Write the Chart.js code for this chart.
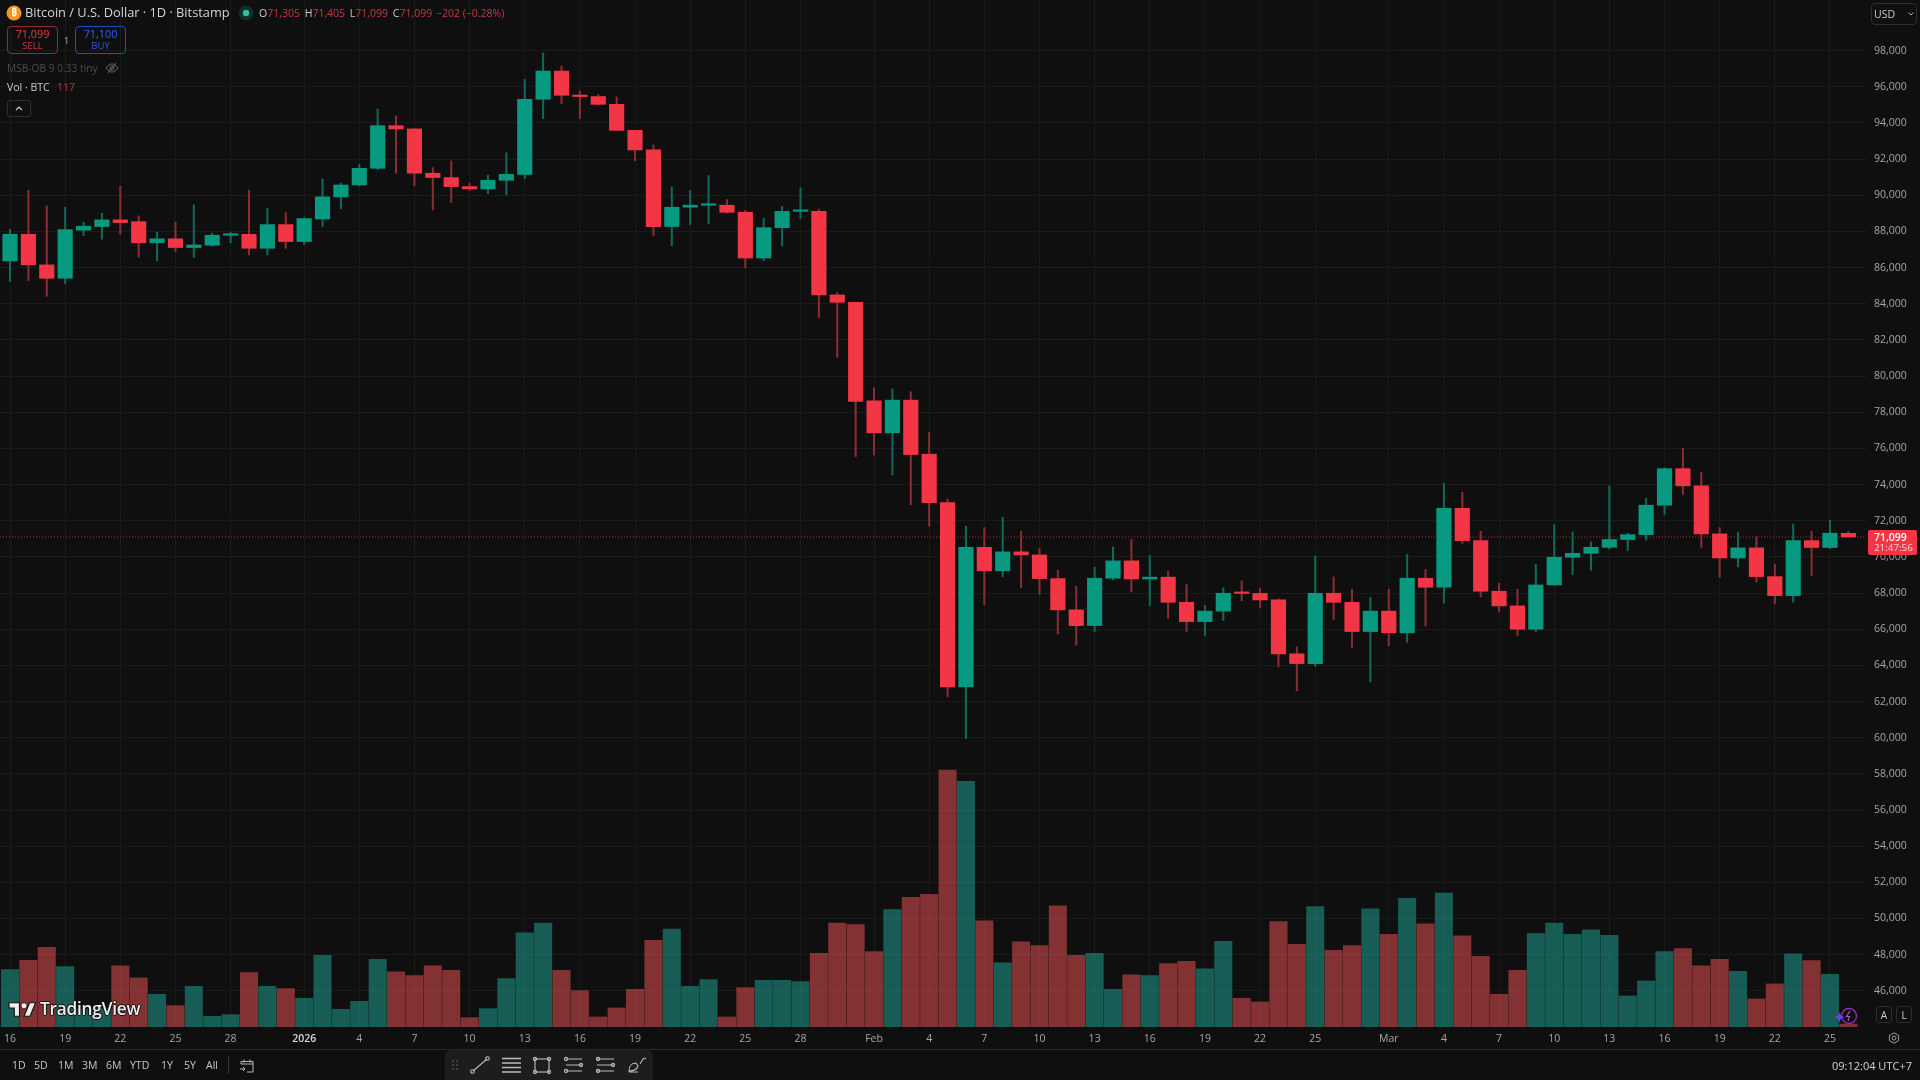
<!DOCTYPE html>
<html>
<head>
<meta charset="utf-8">
<title>BTCUSD 1D</title>
<script src="https://cdn.jsdelivr.net/npm/chart.js@4/dist/chart.umd.min.js"></script>
<style>
html, body { margin: 0; padding: 0; background: #0f0f0f; overflow: hidden; }
#wrap { position: relative; width: 1920px; height: 1080px; font-family: "Open Sans", "Noto Sans", sans-serif; }
canvas { position: absolute; left: 0; top: 0; }
.t { position: absolute; white-space: nowrap; line-height: 1; }
.box { position: absolute; box-sizing: border-box; border-radius: 4px; }
svg { position: absolute; overflow: visible; }
</style>
</head>
<body>
<div id="wrap">
<canvas id="btcChart" width="1920" height="1080"></canvas>

<!-- symbol header -->
<svg style="left:6px;top:5px" width="16" height="16" viewBox="0 0 16 16"><circle cx="8" cy="8" r="7.5" fill="#f7931a"/></svg>
<div class="t" style="left:6px;top:7px;width:16px;text-align:center;font-size:10px;font-weight:700;color:#fff">₿</div>
<div class="t" style="left:25px;top:6px;font-size:12.8px;font-weight:500;color:#d1d4dc">Bitcoin / U.S. Dollar · 1D · Bitstamp</div>
<svg style="left:238px;top:5px" width="16" height="16" viewBox="0 0 16 16"><circle cx="8" cy="8" r="7.5" fill="#0e2f2a"/><circle cx="8" cy="8" r="3.2" fill="#35bfa0"/></svg>
<div class="t" style="left:259px;top:7.5px;font-size:10.5px;color:#c43a44"><span style="color:#c8ccd4">O</span>71,305 <span style="color:#c8ccd4;margin-left:2px">H</span>71,405 <span style="color:#c8ccd4;margin-left:2px">L</span>71,099 <span style="color:#c8ccd4;margin-left:2px">C</span>71,099 <span style="margin-left:1px">−202 (−0.28%)</span></div>

<!-- order buttons -->
<div class="box" style="left:7px;top:26px;width:51px;height:28px;border:1px solid #8f2c36"></div>
<div class="t" style="left:7px;top:29px;width:51px;text-align:center;font-size:10.8px;font-weight:500;color:#f23645">71,099</div>
<div class="t" style="left:7px;top:41px;width:51px;text-align:center;font-size:9.5px;font-weight:500;color:#d63541">SELL</div>
<div class="t" style="left:64px;top:36px;font-size:9px;color:#b0b0b0">1</div>
<div class="box" style="left:75px;top:26px;width:51px;height:28px;border:1px solid #1f4fc4"></div>
<div class="t" style="left:75px;top:29px;width:51px;text-align:center;font-size:10.8px;font-weight:500;color:#2962ff">71,100</div>
<div class="t" style="left:75px;top:41px;width:51px;text-align:center;font-size:9.5px;font-weight:500;color:#2a5ae0">BUY</div>

<!-- indicator legend -->
<div class="t" style="left:7px;top:63px;font-size:10.2px;color:#4c4c4c">MSB-OB 9 0.33 tiny</div>
<svg style="left:105px;top:62px" width="14" height="12" viewBox="0 0 14 12" fill="none" stroke="#666" stroke-width="1"><path d="M1 6c2-3 4-4 6-4s4 1 6 4c-2 3-4 4-6 4s-4-1-6-4z"/><circle cx="7" cy="6" r="2"/><path d="M3 11L11 1"/></svg>
<div class="t" style="left:7px;top:82px;font-size:10.5px;font-weight:500;color:#c8ccd4">Vol · BTC</div>
<div class="t" style="left:57px;top:82px;font-size:10.5px;color:#b53a42">117</div>
<div class="box" style="left:7px;top:100px;width:24px;height:17px;border:1px solid #2e2e2e;border-radius:3px"></div>
<svg style="left:15px;top:106px" width="8" height="5" viewBox="0 0 8 5" fill="none" stroke="#c8c8c8" stroke-width="1.2"><path d="M1 4l3-3 3 3"/></svg>

<!-- currency box -->
<div class="box" style="left:1871px;top:3px;width:46px;height:22px;border:1px solid #2e2e2e"></div>
<div class="t" style="left:1874px;top:9px;font-size:10.5px;color:#c8ccd4">USD</div>
<svg style="left:1908px;top:12px" width="6" height="4" viewBox="0 0 6 4" fill="none" stroke="#b0b0b0" stroke-width="1"><path d="M0.5 0.5l2.5 2.5 2.5-2.5"/></svg>

<!-- last price tag -->
<div id="priceTag" class="box" style="left:1868px;top:530px;width:49px;height:25px;background:#f23645;border-radius:2px"></div>
<div class="t" style="left:1874px;top:531.5px;font-size:10.5px;font-weight:600;color:#fff">71,099</div>
<div class="t" style="left:1874px;top:543px;font-size:9.8px;color:#ffd5d8">21:47:56</div>

<!-- watermark -->
<svg style="left:9px;top:1001px" width="27" height="17" viewBox="0 0 36 22"><path d="M14 20H7V9H0V2h14v18zM28 20h-8l7.5-18h8L28 20z" fill="#eee" stroke="#111" stroke-width="1.5"/><circle cx="20" cy="6" r="4" fill="#eee" stroke="#111" stroke-width="1"/></svg>
<div class="t" style="left:40px;top:1000px;font-size:17.2px;font-weight:600;color:#eee;letter-spacing:-0.2px;text-shadow:-1px 0 #111,1px 0 #111,0 -1px #111,0 1px #111">TradingView</div>

<!-- pane corner buttons -->
<div class="box" style="left:1876px;top:1006px;width:16px;height:17px;border:1px solid #2e2e2e;border-radius:3px"></div>
<div class="t" style="left:1876px;top:1010px;width:16px;text-align:center;font-size:10px;color:#c8ccd4">A</div>
<div class="box" style="left:1896px;top:1006px;width:16px;height:17px;border:1px solid #2e2e2e;border-radius:3px"></div>
<div class="t" style="left:1896px;top:1010px;width:16px;text-align:center;font-size:10px;color:#c8ccd4">L</div>
<svg style="left:1888px;top:1032px" width="12" height="12" viewBox="0 0 12 12" fill="none" stroke="#a0a0a0"><path d="M6 .8l4.6 2.6v5.2L6 11.2 1.4 8.6V3.4z"/><circle cx="6" cy="6" r="2"/></svg>
<svg style="left:1834px;top:1006px" width="24" height="20" viewBox="0 0 24 20" fill="none"><circle cx="15" cy="10" r="7.5" stroke="#8e2fb0" stroke-width="1.4"/><path d="M16 5l-3.5 5.5h3l-1.500 4.500" stroke="#b04fd0" stroke-width="1.2"/><path d="M5.500 6l1.500 3.700 3.700 1.500-3.700 1.500-1.500 3.700-1.500-3.700-3.700-1.500 3.700-1.500z" fill="#6a3df5"/></svg>

<!-- bottom bar -->
<div class="box" style="left:0;top:1049px;width:1920px;height:1px;background:#2a2a2a;border-radius:0"></div>
<div class="t" style="left:12px;top:1060px;font-size:10.5px;color:#c4c8d2">1D</div>
<div class="t" style="left:34px;top:1060px;font-size:10.5px;color:#c4c8d2">5D</div>
<div class="t" style="left:58px;top:1060px;font-size:10.5px;color:#c4c8d2">1M</div>
<div class="t" style="left:82px;top:1060px;font-size:10.5px;color:#c4c8d2">3M</div>
<div class="t" style="left:106px;top:1060px;font-size:10.5px;color:#c4c8d2">6M</div>
<div class="t" style="left:130px;top:1060px;font-size:10.5px;color:#c4c8d2">YTD</div>
<div class="t" style="left:161px;top:1060px;font-size:10.5px;color:#c4c8d2">1Y</div>
<div class="t" style="left:184px;top:1060px;font-size:10.5px;color:#c4c8d2">5Y</div>
<div class="t" style="left:206px;top:1060px;font-size:10.5px;color:#c4c8d2">All</div>
<div class="box" style="left:228px;top:1056px;width:1px;height:18px;background:#333;border-radius:0"></div>
<svg style="left:239px;top:1058px" width="16" height="16" viewBox="0 0 16 16" fill="none" stroke="#b8b8b8"><path d="M2 6V3.500h12V14H8M2 6h12M5 1.500v3M11 1.500v3M1 11h5M4 9l2 2-2 2"/></svg>
<div class="box" style="left:445px;top:1050px;width:208px;height:30px;background:#1d1d1d;border-radius:6px 6px 0 0"></div>
<svg style="left:452px;top:1060px" width="6" height="10" fill="#4a4a4a"><circle cx="1" cy="1" r="1"/><circle cx="5" cy="1" r="1"/><circle cx="1" cy="5" r="1"/><circle cx="5" cy="5" r="1"/><circle cx="1" cy="9" r="1"/><circle cx="5" cy="9" r="1"/></svg>
<svg style="left:470px;top:1056px" width="180" height="18" viewBox="0 0 180 18" fill="none" stroke="#bcbcbc" stroke-width="1.1">
  <path d="M3 15L17 3"/><circle cx="2.500" cy="15.500" r="1.800"/><circle cx="17.500" cy="2.500" r="1.800"/>
  <path d="M32 2.500h19M32 7h19M32 11.500h19M32 16h19" stroke-width="1.500"/>
  <rect x="65" y="3" width="14" height="13"/><circle cx="65" cy="3" r="1.600"/><circle cx="79" cy="3" r="1.600"/><circle cx="65" cy="16" r="1.600"/><circle cx="79" cy="16" r="1.600"/>
  <path d="M96 3h16M96 9h16M96 15h16"/><circle cx="96" cy="3" r="1.600"/><circle cx="111" cy="9" r="1.600"/><circle cx="96" cy="15" r="1.600"/>
  <path d="M127 3h17M127 9h17M127 15h17"/><circle cx="128" cy="3" r="1.600"/><circle cx="143" cy="9" r="1.600"/><circle cx="128" cy="15" r="1.600"/>
  <path d="M159 15c0-5 3-8 7-8l2 3c-1 3-3 5-9 5zM159 16h9M170 8l3-5 3-1"/>
</svg>
<div class="t" style="left:1832px;top:1059.500px;font-size:11px;color:#d1d4dc">09:12:04 UTC+7</div>
</div>

<script>
// daily candles, 16 Dec to 26 Mar
const opens = [86370,87840,86150,85410,88070,88270,88640,88540,87370,87590,87110,87240,87790,87840,87070,88380,87440,88690,89910,90570,91490,93850,93670,91220,90980,90480,90350,90830,91160,95310,96870,95530,95460,95030,93590,92510,88270,89340,89450,89450,89060,86530,88210,89110,89110,84490,84080,78630,76860,78670,75680,73000,62810,70530,69230,70280,70110,68800,67070,66200,68820,69780,68780,68880,67490,66420,67000,67990,67980,67620,64640,64100,67990,67490,65870,67000,65800,68820,68320,72690,70900,68100,67290,66000,68450,69980,70200,70530,70960,71230,72860,74880,73930,71270,69940,70500,68910,67860,70900,70520,71305];
const highs = [88120,90280,89410,89340,88510,89010,90500,88860,87950,88510,89470,87900,87950,90280,89280,89040,88750,90900,90680,91710,94770,94390,93690,91530,91900,90680,91120,92360,96410,97870,97150,95770,95570,95440,93590,92780,90460,90260,91090,89760,89170,88730,89390,90420,89230,84620,84100,79350,79290,79130,76890,73210,71700,71620,72190,71420,70480,69260,68380,69430,70550,70960,70090,69210,68470,67310,68300,68670,68270,67680,65020,70040,68890,68210,67770,68210,70130,69300,74070,73580,71420,68540,68210,69590,71790,71380,70830,73930,71310,73240,74920,76010,74680,71620,71360,71110,69590,71820,71420,72030,71405];
const lows = [85230,85280,84420,85100,87770,87570,87860,86570,86370,86900,86570,87180,87370,86700,86700,87070,87270,88270,89260,90520,91420,91220,90520,89190,89600,90260,90090,90020,90920,94240,95070,94240,94990,93590,91920,87770,87200,88380,88430,89020,85980,86390,87200,88710,83240,81040,75550,75640,74530,72880,71700,62260,59950,67360,68910,68300,67920,65740,65120,65870,68730,68060,67310,66590,65870,65650,66480,67570,67180,63920,62590,63950,66520,64990,63090,65080,65280,66180,67440,70740,67790,66980,65650,65870,68450,69020,69260,70420,70350,70920,72340,73460,70520,68860,69450,68600,67400,67490,68950,70440,71099];
const closes = [87840,86150,85410,88100,88290,88640,88490,87370,87590,87110,87250,87790,87840,87070,88380,87440,88710,89910,90570,91490,93850,93670,91220,90980,90480,90350,90830,91160,95310,96870,95530,95460,95030,93590,92510,88270,89340,89450,89460,89060,86530,88210,89110,89120,84490,84080,78600,76860,78670,75660,73000,62810,70530,69230,70280,70110,68800,67070,66200,68820,69780,68780,68880,67490,66420,67000,67990,67980,67620,64640,64100,67990,67490,65870,67000,65800,68820,68320,72690,70900,68100,67290,66000,68450,69980,70200,70530,70960,71230,72860,74880,73930,71270,69940,70500,68910,67860,70900,70520,71310,71099];
const volumes = [2236,2600,3107,2353,700,720,2379,1911,1274,832,1586,416,481,2119,1586,1495,1118,2795,689,1001,2639,2145,2002,2379,2210,364,715,1885,3666,4043,2210,1417,390,741,1469,3380,3809,1586,1846,390,1534,1820,1820,1768,2873,4043,3991,2938,4576,5047,5163,10010,9570,4134,2496,3315,3172,4719,2795,2873,1469,2028,2002,2470,2561,2262,3341,1118,975,4108,3224,4693,2990,3172,4602,3614,5008,4017,5214,3549,2756,1274,2210,3640,4043,3614,3783,3575,1209,1794,2938,3055,2379,2639,2171,1092,1677,2847,2587,2054,117];

// time axis: bar index and its label
const timeTickIdx = [0,3,6,9,12,16,19,22,25,28,31,34,37,40,43,47,50,53,56,59,62,65,68,71,75,78,81,84,87,90,93,96,99];
const timeTickTxt = ['16','19','22','25','28','2026','4','7','10','13','16','19','22','25','28','Feb','4','7','10','13','16','19','22','25','Mar','4','7','10','13','16','19','22','25'];
const priceTicks = [46000,48000,50000,52000,54000,56000,58000,60000,62000,64000,66000,68000,70000,72000,74000,76000,78000,80000,82000,84000,86000,88000,90000,92000,94000,96000,98000];
const lastPrice = 71099;

const UP = '#089981';
const DOWN = '#f23645';
const UP_WICK = '#0e6a59';
const DOWN_WICK = '#8a2c36';
const UP_VOL = 'rgba(34,171,155,0.5)';
const DOWN_VOL = 'rgba(245,85,85,0.5)';
const GRID = '#1a1a1a';
const AXIS_TXT = '#a6a6a6';

const xMin = -0.544;
const xMax = 100.96;
const isUp = i => closes[i] >= opens[i];
const isYearTick = c => !!c.tick && c.tick.value === 16;

const bodies = opens.map((o, i) => ({ x: i, y: [o, closes[i]] }));
const wicks = highs.map((h, i) => ({ x: i, y: [lows[i], h] }));
const volBars = volumes.map((v, i) => ({ x: i, y: v }));

// the plot area must fill the canvas up to the axes
const noPadding = s => {
    s.paddingLeft = s.paddingRight = s.paddingTop = s.paddingBottom = 0;
};

new Chart(document.getElementById('btcChart'), {
    data: {
        datasets: [
            {
                // candle bodies
                type: 'bar',
                data: bodies,
                order: 1,
                grouped: false,
                barPercentage: 1,
                categoryPercentage: 1,
                maxBarThickness: 14.5,
                minBarLength: 1.5,
                backgroundColor: opens.map((o, i) => isUp(i) ? UP : DOWN)
            },
            {
                // wicks
                type: 'bar',
                data: wicks,
                order: 2,
                grouped: false,
                barPercentage: 1,
                categoryPercentage: 1,
                maxBarThickness: 1.4,
                backgroundColor: opens.map((o, i) => isUp(i) ? UP_WICK : DOWN_WICK)
            },
            {
                // last price line
                type: 'line',
                data: [{ x: xMin, y: lastPrice }, { x: xMax, y: lastPrice }],
                order: 3,
                borderColor: 'rgba(242,54,69,0.7)',
                borderWidth: 1,
                borderDash: [1, 2],
                pointRadius: 0
            },
            {
                // volume pane overlay
                type: 'bar',
                data: volBars,
                yAxisID: 'vol',
                order: 4,
                grouped: false,
                barPercentage: 1,
                categoryPercentage: 1,
                maxBarThickness: 17.4,
                backgroundColor: opens.map((o, i) => isUp(i) ? UP_VOL : DOWN_VOL)
            }
        ]
    },
    options: {
        responsive: false,
        animation: false,
        layout: { padding: 0 },
        plugins: { legend: { display: false }, tooltip: { enabled: false } },
        scales: {
            x: {
                type: 'linear',
                offset: false,
                min: xMin,
                max: xMax,
                afterBuildTicks: s => { s.ticks = timeTickIdx.map(v => ({ value: v })); },
                afterFit: s => { s.height = 53; noPadding(s); },
                border: { display: false },
                grid: { color: GRID, drawTicks: false, offset: false },
                ticks: {
                    autoSkip: false,
                    maxRotation: 0,
                    padding: 6,
                    color: c => isYearTick(c) ? '#d8d8d8' : AXIS_TXT,
                    font: c => ({ family: '"Open Sans"', size: 10.5, weight: isYearTick(c) ? '600' : '400' }),
                    callback: v => timeTickTxt[timeTickIdx.indexOf(v)]
                }
            },
            y: {
                position: 'right',
                min: 44000,
                max: 100800,
                afterBuildTicks: s => { s.ticks = priceTicks.map(v => ({ value: v })); },
                afterFit: s => { s.width = 54; noPadding(s); },
                border: { display: false },
                grid: { color: GRID, drawTicks: false },
                ticks: {
                    padding: 8,
                    color: AXIS_TXT,
                    font: { family: '"Open Sans"', size: 10.5 },
                    callback: v => v.toLocaleString('en-US')
                }
            },
            vol: {
                display: false,
                min: 0,
                max: 40000
            }
        }
    }
});
</script>
</body>
</html>
